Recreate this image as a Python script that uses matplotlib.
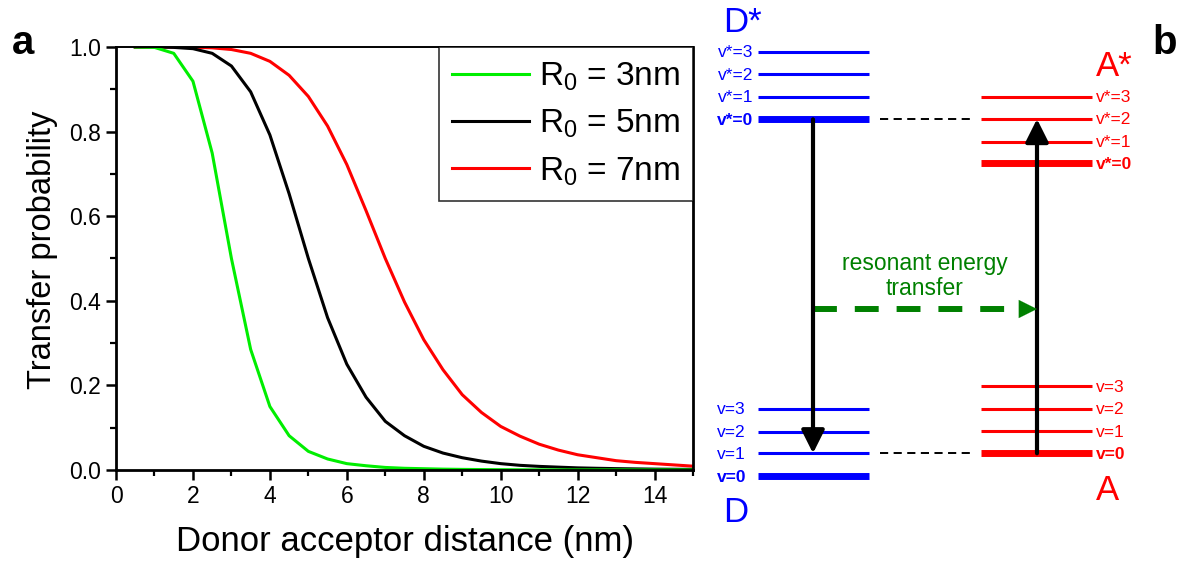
import matplotlib
matplotlib.use('Agg')
import matplotlib.pyplot as plt
from matplotlib.ticker import MultipleLocator

plt.rcParams['font.family'] = ['Liberation Sans', 'DejaVu Sans']
plt.rcParams['mathtext.default'] = 'regular'

# panel a: transfer probability vs donor-acceptor distance (nm)
distance = [0.5, 1.0, 1.5, 2.0, 2.5, 3.0, 3.5, 4.0, 4.5, 5.0,
            5.5, 6.0, 6.5, 7.0, 7.5, 8.0, 8.5, 9.0, 9.5, 10.0,
            10.5, 11.0, 11.5, 12.0, 12.5, 13.0, 13.5, 14.0, 14.5, 15.0]
prob_r3 = [1.0, 0.999, 0.985, 0.919, 0.749, 0.50, 0.285, 0.150, 0.081, 0.044,
           0.026, 0.015, 0.010, 0.006, 0.004, 0.003, 0.002, 0.0014, 0.001, 0.0007,
           0.0005, 0.0004, 0.0003, 0.0002, 0.0002, 0.0002, 0.0001, 0.0001, 0.0001, 0.0001]
prob_r5 = [1.0, 1.0, 0.999, 0.996, 0.985, 0.955, 0.894, 0.792, 0.653, 0.50,
           0.36, 0.25, 0.172, 0.115, 0.081, 0.056, 0.040, 0.029, 0.021, 0.015,
           0.011, 0.0085, 0.0067, 0.005, 0.004, 0.0032, 0.0026, 0.002, 0.0017, 0.0014]
prob_r7 = [1.0, 1.0, 1.0, 0.9995, 0.998, 0.994, 0.985, 0.966, 0.933, 0.883,
           0.813, 0.722, 0.613, 0.50, 0.397, 0.308, 0.237, 0.178, 0.136, 0.103,
           0.080, 0.061, 0.047, 0.036, 0.029, 0.022, 0.018, 0.015, 0.012, 0.009]
labels = [r'R$_0$ = 3nm', r'R$_0$ = 5nm', r'R$_0$ = 7nm']

# panel b: energy level diagram (diagram units, y grows downward)
donor_exc = [51.7, 74.3, 97.0, 119.3]       # v*=3 .. v*=0
donor_gnd = [409.0, 431.7, 453.3, 476.0]    # v=3 .. v=0
acc_exc = [96.7, 119.0, 141.7, 163.3]       # v*=3 .. v*=0
acc_gnd = [386.0, 408.7, 431.3, 453.3]      # v=3 .. v=0
exc_names = ['v*=3', 'v*=2', 'v*=1', 'v*=0']
gnd_names = ['v=3', 'v=2', 'v=1', 'v=0']

fig = plt.figure(figsize=(11.78, 5.64), dpi=100)

ax = fig.add_axes([0.0985, 0.1667, 0.4898, 0.75])
ax.plot(distance, prob_r7, color='#ff0000', lw=2.2)
ax.plot(distance, prob_r5, color='black', lw=2.2)
ax.plot(distance, prob_r3, color='#00ee00', lw=2.2)
handles = ax.get_lines()[::-1]
ax.set_xlim(0, 15)
ax.set_ylim(0, 1)
ax.xaxis.set_major_locator(MultipleLocator(2))
ax.xaxis.set_minor_locator(MultipleLocator(1))
ax.yaxis.set_major_locator(MultipleLocator(0.2))
ax.yaxis.set_minor_locator(MultipleLocator(0.1))
ax.yaxis.set_major_formatter(plt.FormatStrFormatter('%.1f'))
ax.tick_params(which='major', direction='out', length=7, width=1.8, labelsize=16.5, pad=4)
ax.tick_params(which='minor', direction='out', length=4, width=1.6)
for s in ['left', 'bottom', 'right']:
    ax.spines[s].set_linewidth(2.0)
ax.spines['top'].set_linewidth(1.4)
ax.set_xlabel('Donor acceptor distance (nm)', fontsize=25, labelpad=12)
ax.set_ylabel('Transfer probability', fontsize=23.5)
ax.yaxis.set_label_coords(-0.1, 0.52)
leg = ax.legend(handles, labels, loc='upper right', fontsize=24, frameon=True,
                fancybox=False, edgecolor='black', handlelength=2.3,
                handletextpad=0.3, borderpad=0.4, labelspacing=0.45,
                borderaxespad=0.0)
leg.get_frame().set_linewidth(1.2)

fig.text(0.010, 0.905, 'a', fontsize=29, fontweight='bold')
fig.text(0.978, 0.905, 'b', fontsize=29, fontweight='bold')

# energy level diagram drawn in its own axes over the whole figure
dg = fig.add_axes([0, 0, 1, 1])
dg.set_xlim(0, 1178)
dg.set_ylim(564, 0)
dg.axis('off')

blue = '#0000ff'
red = '#ff0000'
green = '#008000'
for i, y in enumerate(donor_exc):
    thick = i == 3
    dg.plot([758, 869], [y, y], color=blue, lw=5.0 if thick else 2.2, solid_capstyle='butt')
    dg.text(753, y + 1, exc_names[i], color=blue, fontsize=12.5, ha='right', va='center',
            fontweight='bold' if thick else 'normal')
for i, y in enumerate(donor_gnd):
    thick = i == 3
    dg.plot([758, 869], [y, y], color=blue, lw=5.0 if thick else 2.2, solid_capstyle='butt')
    dg.text(746, y + 1, gnd_names[i], color=blue, fontsize=12.5, ha='right', va='center',
            fontweight='bold' if thick else 'normal')
for i, y in enumerate(acc_exc):
    thick = i == 3
    dg.plot([981, 1092], [y, y], color=red, lw=5.0 if thick else 2.2, solid_capstyle='butt')
    dg.text(1096, y + 1, exc_names[i], color=red, fontsize=12.5, ha='left', va='center',
            fontweight='bold' if thick else 'normal')
for i, y in enumerate(acc_gnd):
    thick = i == 3
    dg.plot([981, 1092], [y, y], color=red, lw=5.0 if thick else 2.2, solid_capstyle='butt')
    dg.text(1096, y + 1, gnd_names[i], color=red, fontsize=12.5, ha='left', va='center',
            fontweight='bold' if thick else 'normal')

dg.text(742, 22, 'D*', color=blue, fontsize=25, ha='center', va='center')
dg.text(736, 512, 'D', color=blue, fontsize=25, ha='center', va='center')
dg.text(1114, 66, 'A*', color=red, fontsize=25, ha='center', va='center')
dg.text(1108, 491, 'A', color=red, fontsize=25, ha='center', va='center')

# resonance dashed connectors
dg.plot([880, 970], [donor_exc[3], donor_exc[3]], color='black', lw=1.4, dashes=(4.2, 2.8))
dg.plot([880, 970], [donor_gnd[2], donor_gnd[2]], color='black', lw=1.4, dashes=(4.2, 2.8))

# donor de-excitation and acceptor excitation arrows
dg.annotate('', xy=(813, donor_gnd[2]), xytext=(813, donor_exc[3]),
            arrowprops=dict(arrowstyle='-|>,head_length=1.4,head_width=0.7',
                            color='black', lw=3, shrinkA=0, shrinkB=0))
dg.annotate('', xy=(1037, acc_exc[1]), xytext=(1037, acc_gnd[3]),
            arrowprops=dict(arrowstyle='-|>,head_length=1.4,head_width=0.7',
                            color='black', lw=3, shrinkA=0, shrinkB=0))

# resonant energy transfer
dg.plot([813, 1019], [309, 309], color=green, lw=4.3, dashes=(4.0, 3.0))
dg.annotate('', xy=(1037, 309), xytext=(1019, 309),
            arrowprops=dict(arrowstyle='-|>,head_length=1.3,head_width=0.65',
                            color=green, lw=0.1, shrinkA=0, shrinkB=0))
dg.text(925, 276, 'resonant energy\ntransfer', color=green, fontsize=16.5,
        ha='center', va='center', linespacing=1.15)

plt.savefig('out.png', dpi=100)
